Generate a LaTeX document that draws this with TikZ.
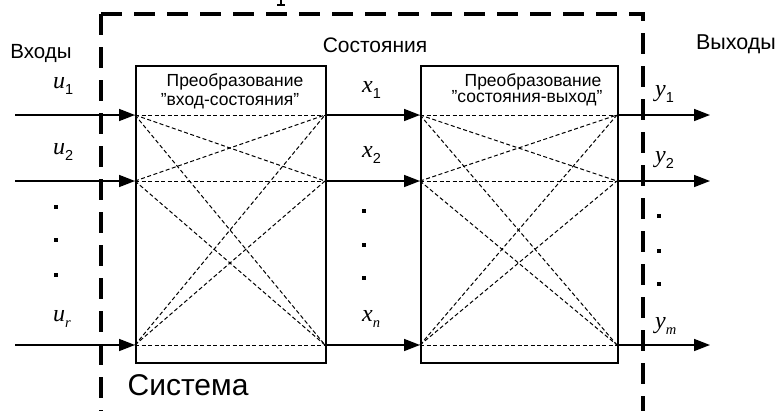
\documentclass[tikz,border=0pt]{standalone}
\usepackage{fontspec}
\setmainfont{Liberation Sans}
\newfontfamily\varfont{Liberation Serif}
\usetikzlibrary{arrows.meta}

% variable with an upright sans subscript
\newcommand\varsub[2]{{\fontsize{24}{24}\varfont\itshape #1}\raisebox{-6pt}{\fontsize{14.5}{14.5}\selectfont #2}}
% variable with an italic serif subscript
\newcommand\varisub[2]{{\fontsize{24}{24}\varfont\itshape #1}\raisebox{-6pt}{\fontsize{14.5}{14.5}\varfont\itshape #2}}

\tikzset{
  frame/.style={line width=3.2pt, dash pattern=on 21pt off 12pt},
  blk/.style={draw, line width=1.5pt, inner sep=0pt, anchor=north west},
  link/.style={line width=1pt, dash pattern=on 4pt off 2.5pt},
  sig/.style={line width=1.6pt, -{Triangle[length=16pt,width=12pt]}},
  lbl/.style={inner sep=0pt, anchor=base},
  vlbl/.style={inner sep=0pt, anchor=base west},
  dotmark/.style={fill, minimum size=4.5pt, inner sep=0pt},
}

\begin{document}
\begin{tikzpicture}[x=1pt,y=-1pt]
\useasboundingbox (0,0) rectangle (777,410);

% system boundary
\draw[frame] (101,14) -- (101,420);
\draw[frame] (101,14) -- (643,14) -- (643,420);
% fragment of a glyph cut by the top edge
\draw[line width=1.5pt] (281,-1) -- (281,5);
\draw[line width=1.5pt] (277,5) -- (285,5);

% transformation blocks
\node[blk, minimum width=190pt, minimum height=297pt] (B1) at (135,65) {};
\node[blk, minimum width=197pt, minimum height=297pt] (B2) at (420,65) {};

% ports
\foreach \i/\yy in {1/115, 2/181, 3/345} {
  \coordinate (s\i) at (15,\yy);
  \coordinate (a\i) at (135,\yy);
  \coordinate (b\i) at (325,\yy);
  \coordinate (c\i) at (420,\yy);
  \coordinate (d\i) at (617,\yy);
  \coordinate (t\i) at (710,\yy);
}

% internal couplings
\foreach \i in {1,2,3} {
  \foreach \j in {1,2,3} {
    \draw[link] (a\i) -- (b\j);
    \draw[link] (c\i) -- (d\j);
  }
}

% signal lines
\foreach \i in {1,2,3} {
  \draw[sig] (s\i) -- (a\i);
  \draw[sig] (b\i) -- (c\i);
  \draw[sig] (d\i) -- (t\i);
}

% block captions
\node[lbl, font=\fontsize{17.5}{17.5}\selectfont] (B1t1) at (235,86) {Преобразование};
\node[lbl, font=\fontsize{17.5}{17.5}\selectfont] (B1t2) at (230,105) {"вход-состояния"};
\node[lbl, font=\fontsize{17.5}{17.5}\selectfont] (B2t1) at (533,86) {Преобразование};
\node[lbl, font=\fontsize{17.5}{17.5}\selectfont] (B2t2) at (527,102) {"состояния-выход"};

% headings
\node[lbl, font=\fontsize{20.5}{20.5}\selectfont] (hin) at (41,58) {Входы};
\node[lbl, font=\fontsize{21}{21}\selectfont] (hst) at (375,52.5) {Состояния};
\node[lbl, font=\fontsize{21.5}{21.5}\selectfont] (hout) at (736,49) {Выходы};
\node[lbl, font=\fontsize{30}{30}\selectfont] (hsys) at (188,395) {Система};

% inputs
\node[vlbl] (u1) at (53,88) {\varsub{u}{1}};
\node[vlbl] (u2) at (53,154) {\varsub{u}{2}};
\node[vlbl] (ur) at (53,321) {\varisub{u}{r}};
\node[dotmark] (ud1) at (56,207) {};
\node[dotmark] (ud2) at (56,240) {};
\node[dotmark] (ud3) at (56,275) {};

% states
\node[vlbl] (x1) at (362,92) {\varsub{x}{1}};
\node[vlbl] (x2) at (362,157) {\varsub{x}{2}};
\node[vlbl] (xn) at (362,321) {\varisub{x}{n}};
\node[dotmark] (xd1) at (364,211) {};
\node[dotmark] (xd2) at (364,245) {};
\node[dotmark] (xd3) at (364,278) {};

% outputs
\node[vlbl] (y1) at (655,96) {\varsub{y}{1}};
\node[vlbl] (y2) at (655,162) {\varsub{y}{2}};
\node[vlbl] (ym) at (655,328) {\varisub{y}{m}};
\node[dotmark] (yd1) at (659,216) {};
\node[dotmark] (yd2) at (659,251) {};
\node[dotmark] (yd3) at (659,284) {};
\end{tikzpicture}
\end{document}
